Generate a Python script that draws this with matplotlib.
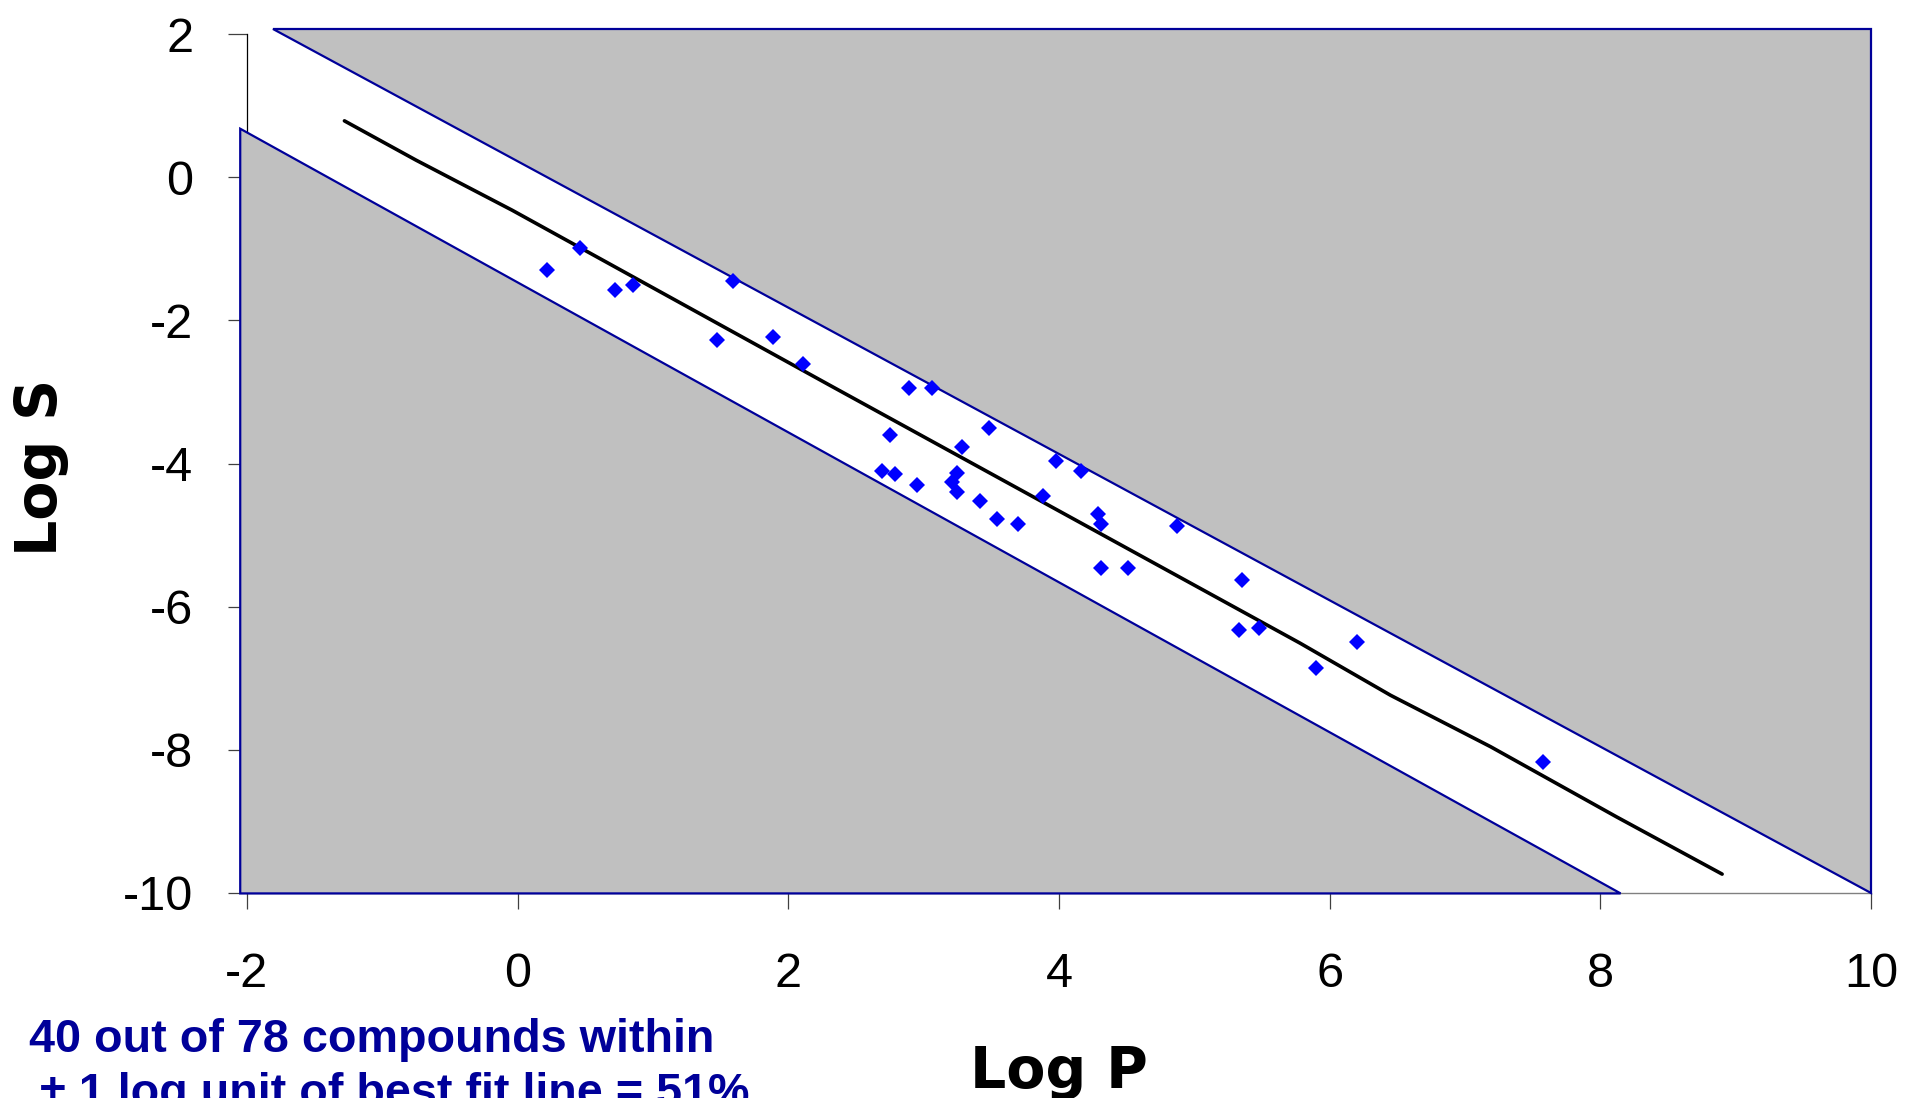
import matplotlib
matplotlib.use("Agg")
import matplotlib.pyplot as plt
from matplotlib.patches import Polygon

# scatter points (Log P, Log S)
log_p = [0.22, 0.46, 0.72, 0.85, 1.47, 1.59, 1.89, 2.11, 2.89, 3.06,
         3.48, 2.75, 3.28, 3.98, 4.16, 2.69, 2.79, 3.25, 3.21, 3.25,
         2.95, 3.42, 3.88, 3.54, 3.70, 4.29, 4.31, 4.87, 4.31, 4.51,
         5.35, 5.33, 5.48, 6.20, 5.90, 7.58]
log_s = [-1.29, -0.99, -1.58, -1.51, -2.27, -1.45, -2.23, -2.61, -2.95, -2.94,
         -3.51, -3.60, -3.77, -3.96, -4.10, -4.10, -4.14, -4.13, -4.26, -4.40,
         -4.30, -4.52, -4.46, -4.77, -4.85, -4.70, -4.84, -4.88, -5.46, -5.46,
         -5.63, -6.33, -6.30, -6.50, -6.86, -8.17]

# best fit line as drawn
fit_p = [-1.28, -0.75, -0.04, 2.31, 5.78, 6.45, 7.19, 8.12, 8.90]
fit_s = [0.79, 0.24, -0.46, -2.91, -6.51, -7.24, -7.96, -8.94, -9.74]

# shaded regions outside the +/- 1 log unit band
upper_p = [-1.81, 10.0, 10.0]
upper_s = [2.07, 2.07, -10.0]
lower_p = [-2.05, 8.15, -2.05]
lower_s = [0.68, -10.01, -10.01]

xticks = [-2, 0, 2, 4, 6, 8, 10]
yticks = [2, 0, -2, -4, -6, -8, -10]

navy = "#000099"

fig = plt.figure(figsize=(19.08, 10.98), dpi=100)
ax = fig.add_axes([0.12945, 0.18697, 0.85115, 0.78179])
ax.set_xlim(-2, 10)
ax.set_ylim(-10, 2)

ax.add_patch(Polygon(list(zip(upper_p, upper_s)), closed=True, facecolor="#C0C0C0",
                     edgecolor=navy, linewidth=1.6, clip_on=False, zorder=3))
ax.add_patch(Polygon(list(zip(lower_p, lower_s)), closed=True, facecolor="#C0C0C0",
                     edgecolor=navy, linewidth=1.6, clip_on=False, zorder=3))

ax.plot(fit_p, fit_s, color="black", linewidth=2.6, zorder=4, solid_capstyle="round")
ax.plot(log_p, log_s, "D", color="#0000FF", markersize=8, markeredgewidth=0, zorder=5)

for s in ["top", "right"]:
    ax.spines[s].set_visible(False)
ax.spines["left"].set_color("black")
ax.spines["left"].set_linewidth(0.9)
ax.spines["bottom"].set_color("#808080")
ax.spines["bottom"].set_linewidth(1.0)

ax.set_xticks(xticks)
ax.set_yticks(yticks)
ax.set_xticklabels([str(t) for t in xticks])
ax.set_yticklabels([str(t) for t in yticks])
ax.tick_params(axis="x", direction="out", length=11.5, width=0.9, color="#404040",
               pad=31, labelsize=35)
ax.tick_params(axis="y", direction="out", length=13.7, width=0.9, color="#404040",
               pad=25, labelsize=35)
for lab in ax.get_xticklabels() + ax.get_yticklabels():
    lab.set_fontfamily(["Liberation Sans", "DejaVu Sans"])

fig.text(1059 / 1908, 1 - 1088 / 1098, "Log P", ha="center", va="baseline",
         fontsize=41, fontweight="bold", family="DejaVu Sans")
fig.text(42 / 1908, 1 - 467 / 1098, "Log S", ha="center", va="center", rotation=90,
         fontsize=41, fontweight="bold", family="DejaVu Sans")

fig.text(0.0150, 1 - 1051.7 / 1098, "40 out of 78 compounds within", ha="left",
         va="baseline", fontsize=33.7, fontweight="bold", color=navy,
         family=["Liberation Sans", "DejaVu Sans"])
fig.text(0.0210, 1 - 1106 / 1098, "\u00b1 1 log unit of best fit line = 51%", ha="left",
         va="baseline", fontsize=33.7, fontweight="bold", color=navy,
         family=["Liberation Sans", "DejaVu Sans"])

fig.savefig("out.png", dpi=100)
